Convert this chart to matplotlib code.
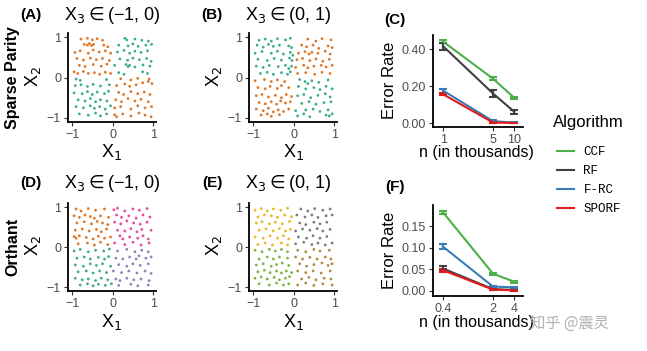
import matplotlib
matplotlib.use("Agg")
import matplotlib.pyplot as plt
from matplotlib.lines import Line2D

plt.rcParams['font.family'] = ['Liberation Sans', 'DejaVu Sans']

# ---- scatter data ----
pts_a = [(-0.78, 0.95), (-0.62, 0.97), (-0.5, 0.93), (-0.38, 0.96), (-0.25, 0.92), (0.3, 0.97), (0.35, 0.93), (0.55, 0.95), (0.72, 0.92), (0.88, 0.9),
         (-0.7, 0.82), (-0.62, 0.8), (-0.57, 0.84), (-0.52, 0.79), (-0.47, 0.82), (-0.22, 0.8), (-0.12, 0.76), (0.15, 0.8), (0.38, 0.78), (0.5, 0.83), (0.63, 0.77), (0.82, 0.8), (0.96, 0.82),
         (-0.93, 0.62), (-0.8, 0.66), (-0.6, 0.6), (-0.48, 0.68), (-0.33, 0.63), (-0.18, 0.66), (-0.05, 0.6), (0.12, 0.63), (0.28, 0.67), (0.42, 0.6), (0.55, 0.65), (0.7, 0.62), (0.86, 0.66),
         (-0.88, 0.47), (-0.72, 0.43), (-0.55, 0.48), (-0.4, 0.44), (-0.25, 0.47), (-0.08, 0.42), (0.18, 0.46), (0.37, 0.43), (0.5, 0.48), (0.66, 0.44), (0.84, 0.47), (0.95, 0.4),
         (-0.82, 0.3), (-0.68, 0.27), (-0.48, 0.32), (-0.28, 0.28), (-0.14, 0.33), (0.05, 0.3), (0.33, 0.32), (0.38, 0.27), (0.42, 0.3), (0.55, 0.26), (0.75, 0.31), (0.92, 0.28),
         (-0.95, 0.14), (-0.86, 0.1), (-0.72, 0.15), (-0.6, 0.1), (-0.45, 0.12), (-0.32, 0.08), (-0.18, 0.13), (-0.05, 0.1), (0.15, 0.12), (0.28, 0.08), (0.74, 0.14), (0.86, 0.1),
         (-0.9, -0.04), (-0.8, -0.07), (-0.15, -0.05), (0.2, -0.03), (0.45, -0.06), (0.62, -0.02), (0.9, -0.04),
         (-0.92, -0.2), (-0.78, -0.18), (-0.62, -0.22), (-0.48, -0.17), (-0.3, -0.21), (-0.08, -0.18), (0.1, -0.2), (0.3, -0.16), (0.42, -0.22), (0.58, -0.18), (0.74, -0.13), (0.88, -0.1), (0.97, -0.15),
         (-0.95, -0.38), (-0.75, -0.4), (-0.62, -0.35), (-0.5, -0.42), (-0.38, -0.36), (-0.2, -0.4), (-0.1, -0.34), (0.15, -0.37), (0.27, -0.42), (0.45, -0.35), (0.62, -0.4), (0.78, -0.36), (0.92, -0.42),
         (-0.85, -0.55), (-0.68, -0.58), (-0.55, -0.52), (-0.42, -0.6), (-0.3, -0.55), (-0.14, -0.58), (0.08, -0.55), (0.22, -0.6), (0.38, -0.52), (0.55, -0.58), (0.7, -0.54), (0.88, -0.6),
         (-0.9, -0.72), (-0.72, -0.75), (-0.55, -0.7), (-0.45, -0.76), (-0.32, -0.72), (-0.18, -0.78), (-0.05, -0.7), (0.05, -0.75), (0.2, -0.72), (0.45, -0.78), (0.62, -0.7), (0.8, -0.75), (0.96, -0.72),
         (-0.82, -0.9), (-0.6, -0.93), (-0.42, -0.88), (-0.3, -0.95), (-0.15, -0.9), (0.05, -0.92), (0.1, -0.97), (0.25, -0.9), (0.45, -0.95), (0.65, -0.88), (0.8, -0.93), (0.95, -0.97)]

pts_b = [(-0.85, 0.92), (-0.7, 0.95), (-0.55, 0.9), (-0.4, 0.96), (-0.2, 0.93), (-0.08, 0.97), (0.35, 0.95), (0.55, 0.9), (0.7, 0.96), (0.92, 0.93),
         (-0.9, 0.8), (-0.75, 0.75), (-0.62, 0.82), (-0.5, 0.77), (-0.35, 0.8), (-0.12, 0.78), (-0.05, 0.74), (0.2, 0.8), (0.32, 0.76), (0.48, 0.8), (0.62, 0.72), (0.85, 0.78), (0.95, 0.74),
         (-0.95, 0.6), (-0.78, 0.64), (-0.55, 0.6), (-0.4, 0.65), (-0.25, 0.58), (-0.08, 0.62), (-0.02, 0.55), (0.12, 0.6), (0.28, 0.64), (0.38, 0.58), (0.45, 0.62), (0.6, 0.6), (0.78, 0.65), (0.9, 0.58),
         (-0.88, 0.45), (-0.65, 0.42), (-0.48, 0.47), (-0.3, 0.43), (-0.1, 0.48), (-0.04, 0.42), (0.08, 0.44), (0.22, 0.47), (0.4, 0.42), (0.55, 0.46), (0.72, 0.4), (0.88, 0.45),
         (-0.92, 0.28), (-0.75, 0.25), (-0.6, 0.3), (-0.38, 0.27), (-0.2, 0.3), (-0.12, 0.22), (-0.05, 0.28), (0.05, 0.25), (0.25, 0.3), (0.35, 0.24), (0.5, 0.28), (0.68, 0.3), (0.8, 0.26), (0.95, 0.3),
         (-0.82, 0.1), (-0.65, 0.13), (-0.5, 0.08), (-0.3, 0.12), (-0.15, 0.08), (-0.08, 0.14), (0.1, 0.1), (0.3, 0.12), (0.52, 0.08), (0.7, 0.13), (0.9, 0.1),
         (-0.95, -0.08), (-0.72, -0.05), (-0.55, -0.1), (-0.4, -0.06), (-0.22, -0.1), (0.15, -0.05), (0.28, -0.1), (0.35, -0.15), (0.45, -0.08), (0.62, -0.12), (0.85, -0.06),
         (-0.88, -0.25), (-0.7, -0.28), (-0.58, -0.22), (-0.4, -0.27), (-0.3, -0.2), (-0.12, -0.25), (0.12, -0.22), (0.3, -0.28), (0.5, -0.25), (0.65, -0.3), (0.8, -0.22), (0.95, -0.28),
         (-0.92, -0.45), (-0.78, -0.42), (-0.62, -0.48), (-0.45, -0.44), (-0.3, -0.5), (-0.18, -0.42), (-0.05, -0.47), (0.1, -0.45), (0.25, -0.42), (0.42, -0.5), (0.6, -0.44), (0.78, -0.4), (0.9, -0.48),
         (-0.85, -0.62), (-0.7, -0.65), (-0.55, -0.6), (-0.42, -0.66), (-0.32, -0.58), (-0.2, -0.63), (-0.08, -0.6), (0.2, -0.64), (0.38, -0.6), (0.55, -0.66), (0.75, -0.62), (0.92, -0.6),
         (-0.92, -0.78), (-0.75, -0.82), (-0.62, -0.76), (-0.5, -0.85), (-0.38, -0.8), (-0.25, -0.84), (-0.12, -0.78), (0.05, -0.82), (0.3, -0.8), (0.48, -0.78), (0.65, -0.84), (0.85, -0.8),
         (-0.8, -0.93), (-0.65, -0.9), (-0.55, -0.96), (-0.35, -0.92), (0.1, -0.95), (0.25, -0.9), (0.4, -0.97), (0.8, -0.93), (0.88, -0.95), (0.95, -0.9)]

pts_d = [(-0.9, 0.95), (-0.78, 0.9), (-0.6, 0.96), (-0.42, 0.92), (-0.2, 0.95), (0.03, 0.93), (0.12, 0.97), (0.3, 0.9), (0.5, 0.95), (0.66, 0.92), (0.85, 0.96),
         (-0.95, 0.78), (-0.82, 0.74), (-0.68, 0.8), (-0.55, 0.76), (-0.45, 0.72), (-0.3, 0.78), (-0.1, 0.74), (0.1, 0.8), (0.22, 0.74), (0.4, 0.78), (0.58, 0.72), (0.75, 0.8), (0.92, 0.75),
         (-0.88, 0.6), (-0.7, 0.63), (-0.52, 0.58), (-0.38, 0.64), (-0.25, 0.6), (-0.12, 0.56), (0.05, 0.62), (0.2, 0.58), (0.35, 0.65), (0.52, 0.6), (0.68, 0.57), (0.85, 0.62),
         (-0.92, 0.42), (-0.75, 0.45), (-0.58, 0.4), (-0.4, 0.44), (-0.28, 0.38), (-0.15, 0.45), (0.12, 0.42), (0.3, 0.4), (0.45, 0.46), (0.6, 0.38), (0.72, 0.44), (0.95, 0.42),
         (-0.95, 0.26), (-0.9, 0.22), (-0.82, 0.28), (-0.65, 0.24), (-0.48, 0.2), (-0.35, 0.27), (-0.2, 0.22), (-0.05, 0.25), (0.18, 0.28), (0.25, 0.2), (0.42, 0.25), (0.62, 0.22), (0.75, 0.28), (0.88, 0.2),
         (-0.85, 0.08), (-0.62, 0.1), (-0.45, 0.05), (-0.3, 0.12), (-0.12, 0.06), (0.05, 0.1), (0.3, 0.06), (0.5, 0.12), (0.7, 0.05), (0.9, 0.1),
         (-0.95, -0.1), (-0.8, -0.06), (-0.6, -0.12), (-0.42, -0.08), (-0.22, -0.1), (-0.08, -0.05), (0.12, -0.1), (0.35, -0.06), (0.55, -0.12), (0.72, -0.08), (0.88, -0.12),
         (-0.88, -0.28), (-0.7, -0.25), (-0.55, -0.3), (-0.35, -0.26), (-0.2, -0.3), (-0.1, -0.24), (0.08, -0.28), (0.25, -0.3), (0.42, -0.25), (0.58, -0.3), (0.65, -0.22), (0.82, -0.28), (0.95, -0.25),
         (-0.92, -0.45), (-0.72, -0.48), (-0.55, -0.42), (-0.4, -0.46), (-0.25, -0.42), (-0.05, -0.48), (0.15, -0.44), (0.35, -0.48), (0.5, -0.42), (0.68, -0.46), (0.88, -0.42),
         (-0.85, -0.62), (-0.65, -0.6), (-0.48, -0.65), (-0.32, -0.6), (-0.15, -0.64), (0.02, -0.6), (0.22, -0.64), (0.4, -0.6), (0.6, -0.65), (0.8, -0.6), (0.95, -0.66),
         (-0.92, -0.78), (-0.75, -0.82), (-0.6, -0.8), (-0.42, -0.84), (-0.28, -0.78), (-0.12, -0.82), (0.08, -0.8), (0.18, -0.84), (0.35, -0.78), (0.52, -0.82), (0.7, -0.8), (0.9, -0.84),
         (-0.8, -0.95), (-0.62, -0.92), (-0.48, -0.97), (-0.35, -0.93), (-0.18, -0.96), (-0.03, -0.92), (0.15, -0.96), (0.45, -0.93), (0.62, -0.97), (0.88, -0.95)]

pts_e = [(-0.95, 0.92), (-0.8, 0.96), (-0.65, 0.9), (-0.5, 0.95), (-0.32, 0.92), (-0.15, 0.97), (0.18, 0.95), (0.35, 0.9), (0.52, 0.96), (0.72, 0.92), (0.9, 0.95),
         (-0.88, 0.75), (-0.72, 0.8), (-0.55, 0.78), (-0.4, 0.74), (-0.22, 0.8), (-0.05, 0.76), (0.08, 0.8), (0.28, 0.75), (0.45, 0.8), (0.6, 0.74), (0.8, 0.78), (0.95, 0.8),
         (-0.92, 0.6), (-0.78, 0.63), (-0.6, 0.58), (-0.45, 0.62), (-0.28, 0.58), (-0.1, 0.64), (0.15, 0.6), (0.3, 0.56), (0.5, 0.62), (0.65, 0.58), (0.82, 0.62),
         (-0.85, 0.42), (-0.68, 0.45), (-0.5, 0.4), (-0.35, 0.46), (-0.2, 0.4), (-0.08, 0.44), (0.05, 0.4), (0.22, 0.45), (0.4, 0.42), (0.58, 0.46), (0.72, 0.4), (0.9, 0.44),
         (-0.95, 0.25), (-0.75, 0.22), (-0.58, 0.28), (-0.4, 0.22), (-0.25, 0.28), (-0.12, 0.2), (0.12, 0.25), (0.32, 0.22), (0.48, 0.28), (0.65, 0.22), (0.82, 0.26),
         (-0.88, 0.06), (-0.7, 0.1), (-0.52, 0.05), (-0.3, 0.1), (-0.15, 0.05), (0.05, 0.08), (0.25, 0.12), (0.45, 0.06), (0.6, 0.1), (0.78, 0.05), (0.95, 0.1),
         (-0.95, -0.08), (-0.78, -0.12), (-0.6, -0.06), (-0.45, -0.1), (-0.3, -0.06), (-0.15, -0.12), (0.1, -0.08), (0.3, -0.12), (0.5, -0.06), (0.65, -0.1), (0.88, -0.08),
         (-0.85, -0.3), (-0.65, -0.25), (-0.5, -0.3), (-0.35, -0.25), (-0.15, -0.28), (0.05, -0.25), (0.22, -0.3), (0.4, -0.26), (0.58, -0.3), (0.78, -0.25), (0.92, -0.3),
         (-0.92, -0.45), (-0.75, -0.42), (-0.55, -0.48), (-0.42, -0.44), (-0.28, -0.4), (-0.12, -0.46), (0.15, -0.42), (0.32, -0.48), (0.5, -0.44), (0.7, -0.4), (0.85, -0.46), (0.95, -0.42),
         (-0.88, -0.62), (-0.72, -0.58), (-0.58, -0.64), (-0.42, -0.6), (-0.3, -0.65), (-0.18, -0.6), (-0.05, -0.64), (0.1, -0.6), (0.3, -0.64), (0.48, -0.6), (0.68, -0.65), (0.9, -0.6),
         (-0.95, -0.78), (-0.8, -0.75), (-0.65, -0.8), (-0.48, -0.76), (-0.35, -0.82), (-0.2, -0.78), (-0.1, -0.74), (0.2, -0.8), (0.38, -0.76), (0.55, -0.82), (0.75, -0.78), (0.92, -0.8),
         (-0.85, -0.92), (-0.6, -0.95), (-0.42, -0.9), (-0.25, -0.95), (-0.12, -0.92), (0.1, -0.95), (0.3, -0.9), (0.5, -0.96), (0.72, -0.92), (0.95, -0.95)]

# quadrant colours per panel: (top-left, top-right, bottom-left, bottom-right)
quad_a = ('#D95F02', '#1B9E77', '#1B9E77', '#D95F02')
quad_b = ('#1B9E77', '#D95F02', '#D95F02', '#1B9E77')
quad_d = ('#D95F02', '#E7298A', '#1B9E77', '#7570B3')
quad_e = ('#E6AB02', '#666666', '#66A61E', '#A6761D')

# ---- error-rate data ----
algos = ['CCF', 'RF', 'F-RC', 'SPORF']
algo_colors = ['#4DAF4A', '#404040', '#377EB8', '#E41A1C']

n_c = [1, 5, 10]
err_c = {'CCF': [0.44, 0.24, 0.135], 'RF': [0.415, 0.16, 0.06],
         'F-RC': [0.175, 0.01, 0.002], 'SPORF': [0.155, 0.003, 0.0]}
sd_c = {'CCF': [0.007, 0.007, 0.005], 'RF': [0.02, 0.02, 0.013],
        'F-RC': [0.01, 0.004, 0.002], 'SPORF': [0.005, 0.002, 0.001]}

n_f = [0.4, 2, 4]
err_f = {'CCF': [0.183, 0.04, 0.021], 'RF': [0.052, 0.004, 0.002],
         'F-RC': [0.103, 0.01, 0.008], 'SPORF': [0.048, 0.003, 0.001]}
sd_f = {'CCF': [0.004, 0.002, 0.002], 'RF': [0.005, 0.001, 0.001],
        'F-RC': [0.005, 0.002, 0.001], 'SPORF': [0.003, 0.001, 0.001]}

W, H = 647, 351
fig = plt.figure(figsize=(W / 100, H / 100), dpi=100)


def rect(l, t, r, b):
    return [l / W, 1 - b / H, (r - l) / W, (b - t) / H]


def ftext(x, y, s, **kw):
    kw.setdefault('ha', 'center')
    fig.text(x / W, 1 - y / H, s, va='center', **kw)


def style(ax):
    for sp in ['top', 'right']:
        ax.spines[sp].set_visible(False)
    for sp in ['left', 'bottom']:
        ax.spines[sp].set_linewidth(1.3)
    ax.tick_params(length=3, width=0.8, color='#333333', labelcolor='#4D4D4D',
                   labelsize=9, pad=2)
    ax.minorticks_off()


def scatter_panel(box, pts, quad):
    ax = fig.add_axes(rect(*box))
    xs = [p[0] for p in pts]
    ys = [p[1] for p in pts]
    cols = []
    for x, y in pts:
        if y >= 0:
            cols.append(quad[0] if x < 0 else quad[1])
        else:
            cols.append(quad[2] if x < 0 else quad[3])
    ax.scatter(xs, ys, c=cols, s=4, linewidths=0, alpha=0.85)
    ax.set_xlim(-1.1, 1.07)
    ax.set_ylim(-1.1, 1.1)
    ax.set_xticks([-1, 0, 1], ['\u22121', '0', '1'])
    ax.set_yticks([-1, 0, 1], ['\u22121', '0', '1'])
    style(ax)
    return ax


def error_panel(box, n, err, sd, xlim, ylim, yticks, ylabels, xlabels):
    ax = fig.add_axes(rect(*box))
    for name, col in zip(algos, algo_colors):
        ax.errorbar(n, err[name], yerr=sd[name], color=col, lw=1.5,
                    capsize=3, capthick=1.5, elinewidth=1.5)
    ax.set_xscale('log')
    ax.set_xlim(*xlim)
    ax.set_ylim(*ylim)
    ax.set_xticks(n, xlabels)
    ax.set_yticks(yticks, ylabels)
    style(ax)
    return ax


scatter_panel((68, 33, 156, 122), pts_a, quad_a)
scatter_panel((249, 33, 337, 122), pts_b, quad_b)
scatter_panel((68, 203, 156, 291), pts_d, quad_d)
scatter_panel((249, 203, 337, 291), pts_e, quad_e)

error_panel((433, 35, 523, 127), n_c, err_c, sd_c, (0.72, 13.2), (-0.0216, 0.476),
            [0, 0.2, 0.4], ['0.00', '0.20', '0.40'], ['1', '5', '10'])
error_panel((433, 205, 523, 296), n_f, err_f, sd_f, (0.29, 5.26), (-0.012, 0.2),
            [0, 0.05, 0.1, 0.15], ['0.00', '0.05', '0.10', '0.15'], ['0.4', '2', '4'])

# panel letters, titles and axis labels
for x, y, s in [(31, 15, '(A)'), (212, 15, '(B)'), (395, 20, '(C)'),
                (31, 183, '(D)'), (212, 183, '(E)'), (395, 187, '(F)')]:
    ftext(x, y, s, fontsize=11, fontweight='bold')

ftext(13, 78, 'Sparse Parity', fontsize=11.5, fontweight='bold', rotation=90)
ftext(13, 247, 'Orthant', fontsize=11.5, fontweight='bold', rotation=90)

for x, y, s in [(112, 16, 'X$_3$$\\in$(\u22121, 0)'), (288, 16, 'X$_3$$\\in$(0, 1)'),
                (112, 184, 'X$_3$$\\in$(\u22121, 0)'), (288, 184, 'X$_3$$\\in$(0, 1)')]:
    ftext(x, y, s, fontsize=13)

for x, y in [(112, 152), (294, 152), (112, 322), (294, 322)]:
    ftext(x, y, 'X$_1$', fontsize=13)
for x, y in [(33, 77), (214, 77), (33, 246), (214, 246)]:
    ftext(x, y, 'X$_2$', fontsize=13, rotation=90)

ftext(476, 153, 'n (in thousands)', fontsize=11.5)
ftext(476, 323, 'n (in thousands)', fontsize=11.5)
ftext(389, 80, 'Error Rate', fontsize=12, rotation=90)
ftext(389, 250, 'Error Rate', fontsize=12, rotation=90)

# legend
ftext(553, 123, 'Algorithm', fontsize=12, ha='left')
handles = [Line2D([], [], color=c, lw=1.5) for c in algo_colors]
fig.legend(handles, algos, loc='upper left', bbox_to_anchor=(551 / W, 1 - 140 / H),
           frameon=False, borderpad=0, handlelength=1.35, handletextpad=0.75,
           labelspacing=0.55, prop={'family': 'Liberation Mono', 'size': 9})

# watermark
fig.text(530 / W, 1 - 323 / H, '知乎 @震灵', fontsize=11, color='#b0b0b0',
         family=['Noto Sans CJK SC', 'DejaVu Sans'], va='center')

fig.savefig('out.png', dpi=100)
